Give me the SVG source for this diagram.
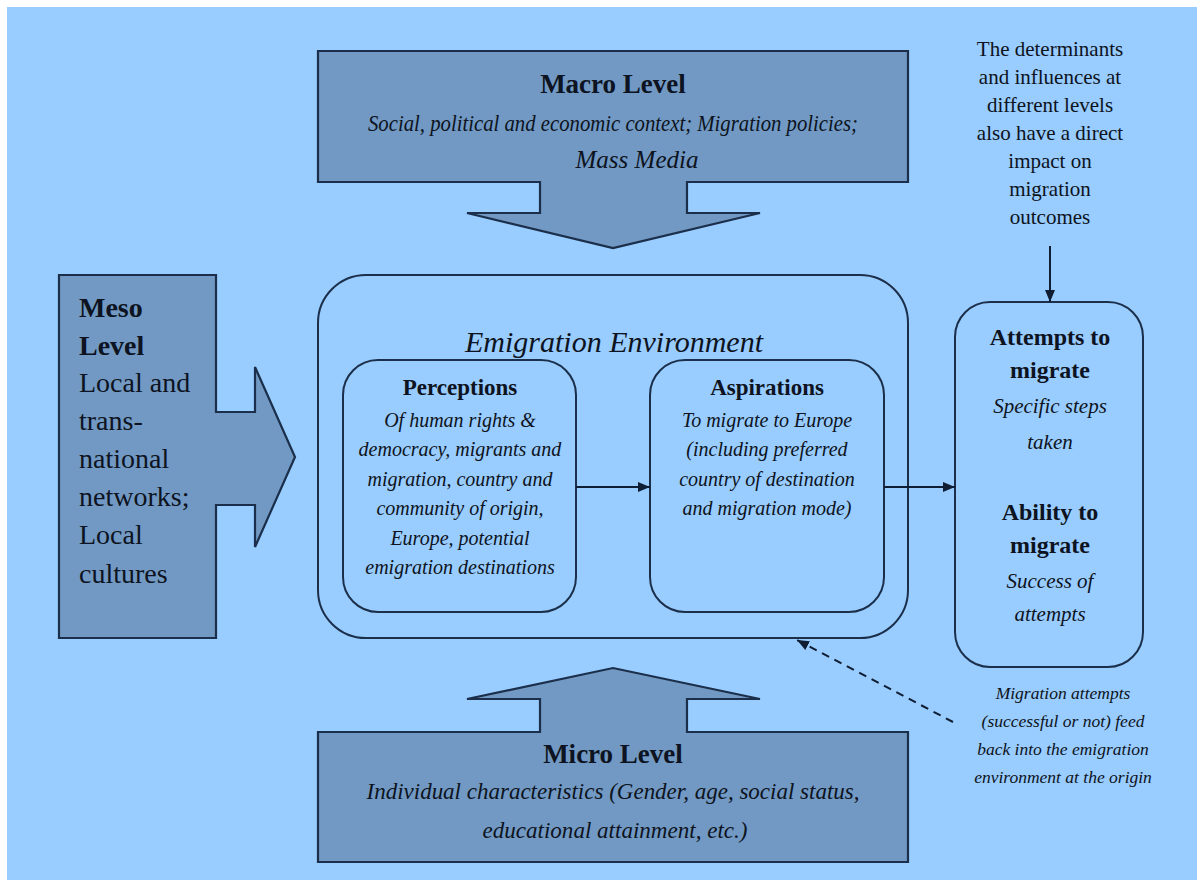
<svg xmlns="http://www.w3.org/2000/svg" width="1203" height="886" viewBox="0 0 1203 886">
<defs>
<marker id="ah" viewBox="0 0 12 10" refX="12" refY="5" markerWidth="12" markerHeight="10" markerUnits="userSpaceOnUse" orient="auto">
<path d="M0,0 L12,5 L0,10 Z" fill="#0f1e33"/>
</marker>
<style>
.blk{fill:#7199c4;stroke:#1b2f4a;stroke-width:2.2;stroke-linejoin:miter}
.rnd{fill:none;stroke:#1b2f4a;stroke-width:2}
.con{stroke:#0f1e33;stroke-width:2;fill:none}
text{font-family:"Liberation Serif","Times New Roman",serif;fill:#0d1320}
.b{font-weight:bold}
.i{font-style:italic}
.c{text-anchor:middle}
</style>
</defs>
<rect x="0" y="0" width="1203" height="886" fill="#ffffff"/>
<rect x="7" y="7" width="1190" height="873" fill="#99ccff"/>

<g id="macro">
<polygon class="blk" points="318,51 908,51 908,182 687,182 687,213 760,213 613,248 467,213 540,213 540,182 318,182"/>
<text class="b c" x="613" y="93" font-size="27">Macro Level</text>
<text class="i c" x="613" y="131" font-size="24" textLength="490" lengthAdjust="spacingAndGlyphs">Social, political and economic context; Migration policies;</text>
<text class="i c" x="637" y="168" font-size="25">Mass Media</text>
</g>

<g id="meso">
<polygon class="blk" points="59,275 216,275 216,412 255,412 255,367 295,457 255,547 255,505 216,505 216,638 59,638"/>
<text class="b" x="79" y="317" font-size="28">Meso</text>
<text class="b" x="79" y="355" font-size="28">Level</text>
<text x="79" y="392" font-size="28">Local and</text>
<text x="79" y="430" font-size="28">trans-</text>
<text x="79" y="468" font-size="28">national</text>
<text x="79" y="506" font-size="28">networks;</text>
<text x="79" y="544" font-size="28">Local</text>
<text x="79" y="583" font-size="28">cultures</text>
</g>

<g id="micro">
<polygon class="blk" points="318,732 540,732 540,699 467,699 613,668 760,699 687,699 687,732 908,732 908,862 318,862"/>
<text class="b c" x="613" y="763" font-size="27">Micro Level</text>
<text class="i c" x="613" y="799" font-size="24" textLength="493" lengthAdjust="spacingAndGlyphs">Individual characteristics (Gender, age, social status,</text>
<text class="i c" x="615" y="838" font-size="24" textLength="265" lengthAdjust="spacingAndGlyphs">educational attainment, etc.)</text>
</g>

<g id="emigration-environment">
<rect class="rnd" x="318" y="275" width="590" height="363" rx="48" ry="48"/>
<text class="i c" x="614" y="352" font-size="30">Emigration Environment</text>
</g>

<g id="perceptions">
<rect class="rnd" x="343" y="360" width="233" height="252" rx="35" ry="35"/>
<text class="b c" x="460" y="395" font-size="23">Perceptions</text>
<text class="i c" x="460" y="427" font-size="20">Of human rights &amp;</text>
<text class="i c" x="460" y="456" font-size="20">democracy, migrants and</text>
<text class="i c" x="460" y="486" font-size="20">migration,  country and</text>
<text class="i c" x="460" y="515" font-size="20">community of origin,</text>
<text class="i c" x="460" y="545" font-size="20">Europe, potential</text>
<text class="i c" x="460" y="574" font-size="20">emigration destinations</text>
</g>

<g id="aspirations">
<rect class="rnd" x="650" y="360" width="234" height="252" rx="35" ry="35"/>
<text class="b c" x="767" y="395" font-size="23">Aspirations</text>
<text class="i c" x="767" y="427" font-size="20">To migrate to Europe</text>
<text class="i c" x="767" y="456" font-size="20">(including preferred</text>
<text class="i c" x="767" y="486" font-size="20">country of destination</text>
<text class="i c" x="767" y="515" font-size="20">and migration mode)</text>
</g>

<g id="outcomes">
<rect class="rnd" x="955" y="302" width="188" height="365" rx="35" ry="35"/>
<text class="b c" x="1050" y="345" font-size="24">Attempts to</text>
<text class="b c" x="1050" y="378" font-size="24">migrate</text>
<text class="i c" x="1050" y="413" font-size="21">Specific steps</text>
<text class="i c" x="1050" y="449" font-size="21">taken</text>
<text class="b c" x="1050" y="520" font-size="24">Ability to</text>
<text class="b c" x="1050" y="553" font-size="24">migrate</text>
<text class="i c" x="1050" y="588" font-size="21">Success of</text>
<text class="i c" x="1050" y="621" font-size="21">attempts</text>
</g>

<g id="note-determinants">
<text class="c" x="1050" y="56" font-size="21">The determinants</text>
<text class="c" x="1050" y="84" font-size="21">and influences at</text>
<text class="c" x="1050" y="112" font-size="21">different levels</text>
<text class="c" x="1050" y="140" font-size="21">also have a direct</text>
<text class="c" x="1050" y="168" font-size="21">impact on</text>
<text class="c" x="1050" y="196" font-size="21">migration</text>
<text class="c" x="1050" y="224" font-size="21">outcomes</text>
</g>

<g id="note-feedback">
<text class="i c" x="1063" y="699" font-size="17.5">Migration attempts</text>
<text class="i c" x="1063" y="727" font-size="17.5">(successful or not) feed</text>
<text class="i c" x="1063" y="755" font-size="17.5">back into the emigration</text>
<text class="i c" x="1063" y="783" font-size="17.5">environment at the origin</text>
</g>

<g id="connectors">
<line class="con" x1="576" y1="487" x2="650" y2="487" marker-end="url(#ah)"/>
<line class="con" x1="884" y1="487" x2="955" y2="487" marker-end="url(#ah)"/>
<line class="con" x1="1050" y1="246" x2="1050" y2="302" marker-end="url(#ah)"/>
<line class="con" x1="953" y1="722" x2="797" y2="640" stroke-dasharray="8,6" marker-end="url(#ah)"/>
</g>
</svg>
